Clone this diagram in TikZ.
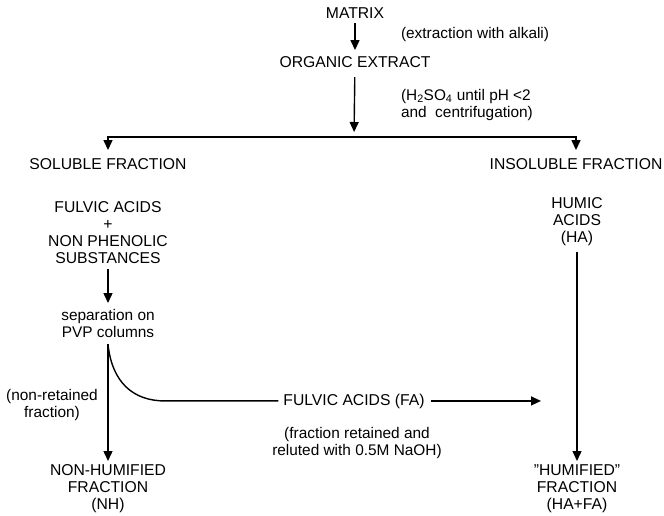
\documentclass[tikz,border=0pt]{standalone}
\usepackage{fontspec}
\setmainfont{Liberation Sans}
\usetikzlibrary{arrows.meta,calc}
\begin{document}
\begin{tikzpicture}[x=1pt,y=-1pt,
  lbl/.style={inner sep=0pt, outer sep=0pt, align=center, font=\fontsize{15.7}{16.8}\selectfont},
  note/.style={inner sep=0pt, outer sep=0pt, font=\fontsize{15.4}{17}\selectfont},
  conn/.style={line width=1.4pt},
  arr/.style={line width=1.4pt, -{Triangle[length=10pt,width=9pt]}}]
\path[use as bounding box] (0,0) rectangle (664,515);
% nodes
\node[lbl, anchor=base] (matrix) at (355,18) {MATRIX};
\node[note, anchor=base west] (ext) at (401,38) {(extraction with alkali)};
\node[lbl, anchor=base] (org) at (355,67) {ORGANIC EXTRACT};
\node[note, anchor=north west, align=left] (acid) at (401,89) {(H\textsubscript{2}SO\textsubscript{4} until pH <2\\and \ centrifugation)};
\coordinate (split) at (354,137);
\node[lbl, anchor=base] (sol) at (108,169) {SOLUBLE FRACTION};
\node[lbl, anchor=base] (insol) at (576,169) {INSOLUBLE FRACTION};
\node[lbl, anchor=north] (fulv) at (108,202) {FULVIC ACIDS\\+\\NON PHENOLIC\\SUBSTANCES};
\node[lbl, anchor=north] (humic) at (577,198) {HUMIC\\ACIDS\\(HA)};
\node[note, anchor=north, align=center] (sep) at (108,309) {separation on\\PVP columns};
\node[note, anchor=north, align=center] (nonret) at (52,389) {(non-retained\\fraction)};
\node[lbl, anchor=base] (fafa) at (354,405) {FULVIC ACIDS (FA)};
\node[note, anchor=north, align=center] (ret) at (357,427) {(fraction retained and\\reluted with 0.5M NaOH)};
\node[lbl, anchor=north] (nh) at (108,465) {NON-HUMIFIED\\FRACTION\\(NH)};
\node[lbl, anchor=north] (hum) at (577,465) {\char34 HUMIFIED\char34\\FRACTION\\(HA+FA)};
\coordinate (fork) at ([yshift=-7pt]sep.south);
\coordinate (bendx) at (165,0);
\coordinate (faend) at (541,0);
% connectors
\draw[arr, shorten <=5pt, shorten >=6pt] (matrix) -- (org);
\draw[arr, shorten <=10pt, shorten >=5pt] (org) -- (split);
\draw[arr, shorten >=8pt] (split) -| (sol);
\draw[arr, shorten >=8pt] (split) -| (insol);
\draw[arr, shorten <=5.5pt, shorten >=6pt] (fulv) -- (sep);
\draw[arr, shorten >=4pt] (fork) -- (nh);
\draw[conn, shorten >=5pt] (fork) .. controls +(4pt,-38pt) and +(-32pt,0pt) .. (fafa.west -| bendx) -- (fafa.west);
\draw[arr, shorten <=6pt] (fafa.east) -- (fafa.east -| faend);
\draw[arr, shorten <=6pt, shorten >=4pt] (humic) -- (hum);
\end{tikzpicture}
\end{document}
